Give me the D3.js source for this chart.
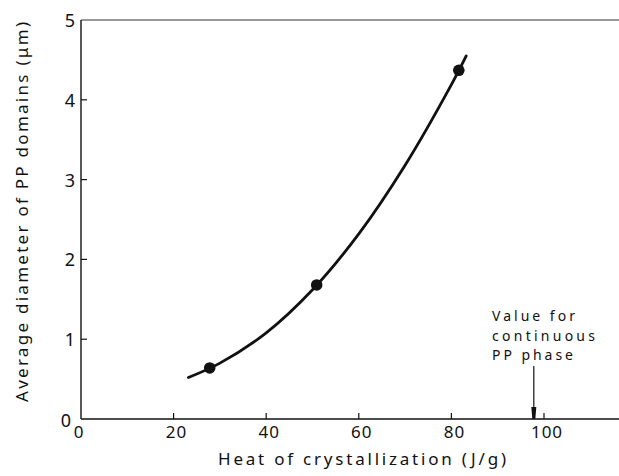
<!DOCTYPE html>
<html>
<head>
<meta charset="utf-8">
<script src="https://cdn.jsdelivr.net/npm/d3@7"></script>
<style>
  html, body { margin: 0; padding: 0; background: #fff; }
  svg { display: block; }
  text { font-family: "Noto Sans", "DejaVu Sans", sans-serif; fill: #111; }
</style>
</head>
<body>
<svg id="chart" width="619" height="476"></svg>
<script>
// ---- data ----
const pointX = [27.8, 50.9, 81.6];
const pointY = [0.64, 1.68, 4.37];
const curveX = [23.2, 30, 40, 50, 60, 70, 80, 83.2];
const curveY = [0.52, 0.70, 1.08, 1.62, 2.32, 3.18, 4.19, 4.55];
const xTicks = [0, 20, 40, 60, 80, 100];
const xTickLabels = ["0", "20", "40", "60", "80", "100"];
const yTicks = [0, 1, 2, 3, 4, 5];
const yTickLabels = ["0", "1", "2", "3", "4", "5"];
const markerX = [97.8];
const annotationLines = ["Value for", "continuous", "PP phase"];
const xTitle = "Heat of crystallization (J/g)";
const yTitle = "Average diameter of PP domains (\u03bcm)";

// ---- layout ----
const W = 619, H = 476;
const plotLeft = 81, plotTop = 20, plotBottom = 419;
const svg = d3.select("#chart");

const x = d3.scaleLinear().domain([0, 100]).range([plotLeft, 544]);
const y = d3.scaleLinear().domain([0, 5]).range([plotBottom, plotTop]);

const ink = "#111";

// frame: left axis, top line, bottom axis
svg.append("line").attr("x1", plotLeft).attr("x2", W).attr("y1", y(0)).attr("y2", y(0))
  .attr("stroke", ink).attr("stroke-width", 1.4);
svg.append("line").attr("x1", plotLeft).attr("x2", W).attr("y1", y(5)).attr("y2", y(5))
  .attr("stroke", "#333").attr("stroke-width", 1.2);
svg.append("line").attr("x1", plotLeft).attr("x2", plotLeft).attr("y1", y(0)).attr("y2", y(5))
  .attr("stroke", ink).attr("stroke-width", 1.4);

// x ticks (inward, upward)
xTicks.forEach((v, i) => {
  if (v > 0) {
    svg.append("line").attr("x1", x(v)).attr("x2", x(v))
      .attr("y1", y(0)).attr("y2", y(0) - 6)
      .attr("stroke", ink).attr("stroke-width", 1.2);
  }
  svg.append("text")
    .attr("x", v === 0 ? x(v) - 2 : x(v) + 3)
    .attr("y", y(0) + 19)
    .attr("text-anchor", "middle")
    .attr("font-size", 17)
    .attr("letter-spacing", 1)
    .text(xTickLabels[i]);
});

// y ticks (inward, rightward)
yTicks.forEach((v, i) => {
  if (v > 0 && v < 5) {
    svg.append("line").attr("x1", plotLeft).attr("x2", plotLeft + 6)
      .attr("y1", y(v)).attr("y2", y(v))
      .attr("stroke", ink).attr("stroke-width", 1.2);
  }
  svg.append("text")
    .attr("x", v === 0 ? plotLeft - 10 : plotLeft - 6)
    .attr("y", v === 0 ? y(v) + 8 : y(v) + 7)
    .attr("text-anchor", "end")
    .attr("font-size", 18)
    .text(yTickLabels[i]);
});

// axis titles
svg.append("text")
  .attr("x", 362).attr("y", 465)
  .attr("text-anchor", "middle")
  .attr("font-size", 17)
  .attr("textLength", 288).attr("lengthAdjust", "spacing")
  .text(xTitle);

svg.append("text")
  .attr("transform", "translate(28,212) rotate(-90)")
  .attr("text-anchor", "middle")
  .attr("font-size", 17)
  .attr("textLength", 380).attr("lengthAdjust", "spacing")
  .text(yTitle);

// fitted curve
const curveData = curveX.map((v, i) => [v, curveY[i]]);
svg.append("path")
  .datum(curveData)
  .attr("fill", "none")
  .attr("stroke", ink)
  .attr("stroke-width", 2.8)
  .attr("stroke-linecap", "round")
  .attr("d", d3.line().x(d => x(d[0])).y(d => y(d[1])).curve(d3.curveCatmullRom.alpha(0.5)));

// points
svg.selectAll("circle.pt")
  .data(pointX.map((v, i) => [v, pointY[i]]))
  .join("circle")
  .attr("class", "pt")
  .attr("cx", d => x(d[0]))
  .attr("cy", d => y(d[1]))
  .attr("r", 5.8)
  .attr("fill", ink);

// annotation arrow
markerX.forEach(v => {
  const ax = x(v);
  svg.append("line").attr("x1", ax).attr("x2", ax)
    .attr("y1", 366).attr("y2", y(0) - 8)
    .attr("stroke", ink).attr("stroke-width", 1.2);
  svg.append("path")
    .attr("d", `M${ax - 2.5},${y(0) - 12} L${ax + 2.5},${y(0) - 12} L${ax + 1.5},${y(0)} L${ax - 1.5},${y(0)} Z`)
    .attr("fill", ink);
});

// annotation text (one text per line)
const annWidths = [83, 103, 81];
annotationLines.forEach((s, i) => {
  svg.append("text")
    .attr("x", 492).attr("y", 321 + i * 19.5)
    .attr("font-size", 14)
    .attr("textLength", annWidths[i]).attr("lengthAdjust", "spacing")
    .text(s);
});
</script>
</body>
</html>
